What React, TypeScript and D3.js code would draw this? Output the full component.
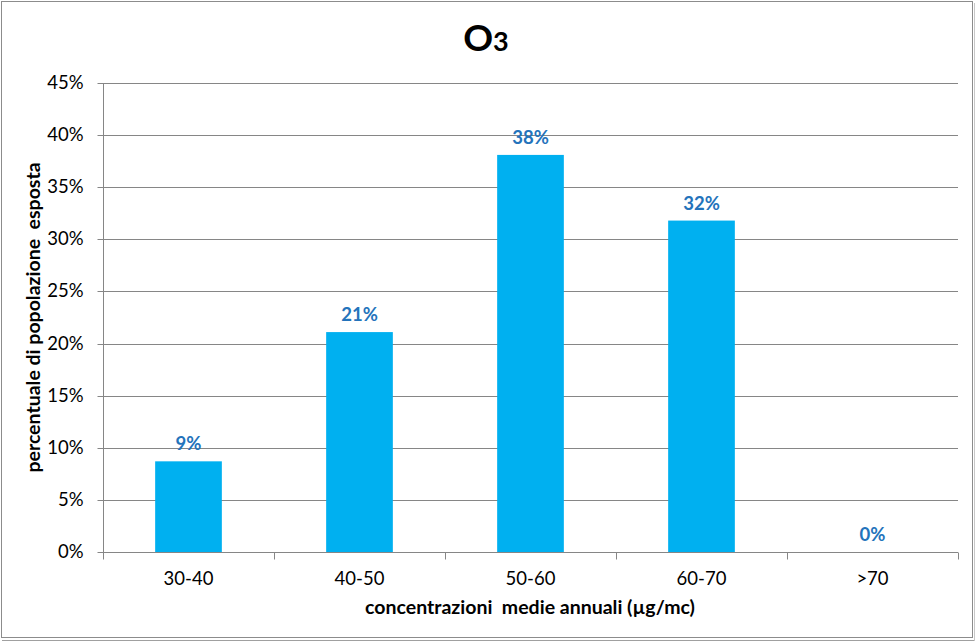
import { useEffect, useRef } from "react";
import * as d3 from "d3";

const categories = ["30-40", "40-50", "50-60", "60-70", ">70"];
const values = [0.087, 0.211, 0.381, 0.318, 0];
const labels = ["9%", "21%", "38%", "32%", "0%"];
const yTicks = [0, 0.05, 0.1, 0.15, 0.2, 0.25, 0.3, 0.35, 0.4, 0.45];

export default function App() {
  const svgRef = useRef<SVGSVGElement>(null);

  useEffect(() => {
    if (!svgRef.current) return;
    const width = 976;
    const height = 642;
    const margin = { top: 83, right: 18, bottom: 90, left: 103 };
    const font = "Lato, 'Open Sans', sans-serif";

    const svg = d3.select(svgRef.current);
    svg.selectAll("*").remove();
    svg.attr("width", width).attr("height", height);

    svg.append("rect").attr("width", width).attr("height", height).attr("fill", "white");
    // outer border
    svg.append("rect")
      .attr("x", 1.5).attr("y", 1.5)
      .attr("width", 971).attr("height", 636)
      .attr("fill", "none").attr("stroke", "#8c8c8c").attr("stroke-width", 1);
    svg.append("line")
      .attr("x1", 2).attr("x2", 974).attr("y1", 640.5).attr("y2", 640.5)
      .attr("stroke", "#a0a0a0");
    svg.append("line")
      .attr("x1", 974.5).attr("x2", 974.5).attr("y1", 3).attr("y2", 641)
      .attr("stroke", "#c8c8c8");

    const x = d3.scaleBand<string>()
      .domain(categories)
      .range([margin.left, width - margin.right])
      .paddingInner(0.61)
      .paddingOuter(0.305);
    const xEdges = d3.scaleBand<string>()
      .domain(categories)
      .range([margin.left, width - margin.right]);
    const y = d3.scaleLinear().domain([0, 0.45]).range([height - margin.bottom, margin.top]);

    // gridlines
    svg.append("g").selectAll("line").data(yTicks.slice(1)).join("line")
      .attr("x1", margin.left).attr("x2", width - margin.right)
      .attr("y1", (d) => Math.round(y(d)) + 0.5).attr("y2", (d) => Math.round(y(d)) + 0.5)
      .attr("stroke", "#868686");

    // y axis
    const yAxis = svg.append("g")
      .attr("transform", `translate(${margin.left + 0.5},0)`)
      .call(d3.axisLeft(y).tickValues(yTicks).tickFormat(d3.format(".0%")).tickSize(6).tickPadding(14));
    yAxis.select(".domain").attr("stroke", "#868686").attr("d", `M0,${y(0)}V${y(0.45)}`);
    yAxis.selectAll(".tick line").attr("stroke", "#868686");
    yAxis.selectAll(".tick").attr("transform", (d: any) => `translate(0,${Math.round(y(d)) + 0.5})`);
    yAxis.selectAll("text").attr("font-family", font).attr("font-size", 18.5).attr("fill", "#000");

    // x axis
    const baseY = Math.round(y(0)) + 0.5;
    svg.append("line")
      .attr("x1", margin.left).attr("x2", width - margin.right)
      .attr("y1", baseY).attr("y2", baseY).attr("stroke", "#868686");
    const edges = categories.map((c) => xEdges(c)!).concat([width - margin.right]);
    svg.append("g").selectAll("line").data(edges).join("line")
      .attr("x1", (d) => Math.round(d) + 0.5).attr("x2", (d) => Math.round(d) + 0.5)
      .attr("y1", baseY).attr("y2", baseY + 7)
      .attr("stroke", "#868686");
    svg.append("g").selectAll("text").data(categories).join("text")
      .attr("x", (d) => xEdges(d)! + xEdges.bandwidth() / 2)
      .attr("y", 585)
      .attr("text-anchor", "middle")
      .attr("font-family", font).attr("font-size", 18.5)
      .text((d) => d);

    // bars
    svg.append("g").selectAll("rect").data(values).join("rect")
      .attr("x", (_, i) => x(categories[i])!)
      .attr("width", x.bandwidth())
      .attr("y", (d) => y(d))
      .attr("height", (d) => y(0) - y(d))
      .attr("fill", "#00b0f0");

    // data labels
    svg.append("g").selectAll("text").data(values).join("text")
      .attr("x", (_, i) => x(categories[i])! + x.bandwidth() / 2)
      .attr("y", (d) => y(d) - 11)
      .attr("text-anchor", "middle")
      .attr("font-family", font).attr("font-size", 18.5).attr("font-weight", "bold")
      .attr("fill", "#2373bb")
      .text((_, i) => labels[i]);

    // title
    const title = svg.append("text")
      .attr("x", 486).attr("y", 51)
      .attr("text-anchor", "middle")
      .attr("font-family", font).attr("font-weight", "bold").attr("fill", "#000");
    title.append("tspan").attr("font-size", 37).text("O");
    title.append("tspan").attr("font-size", 27).text("3");

    // axis titles
    svg.append("text")
      .attr("transform", `translate(40,${(margin.top + y(0)) / 2}) rotate(-90)`)
      .attr("text-anchor", "middle")
      .attr("font-family", font).attr("font-size", 19.5).attr("font-weight", "bold")
      .style("white-space", "pre")
      .text("percentuale di popolazione  esposta");
    svg.append("text")
      .attr("x", 530).attr("y", 614)
      .attr("text-anchor", "middle")
      .attr("font-family", font).attr("font-size", 19.5).attr("font-weight", "bold")
      .style("white-space", "pre")
      .text("concentrazioni  medie annuali (µg/mc)");
  }, []);

  return (
    <svg
      ref={svgRef}
      style={{ position: "absolute", left: 0, top: 0, display: "block" }}
    />
  );
}
